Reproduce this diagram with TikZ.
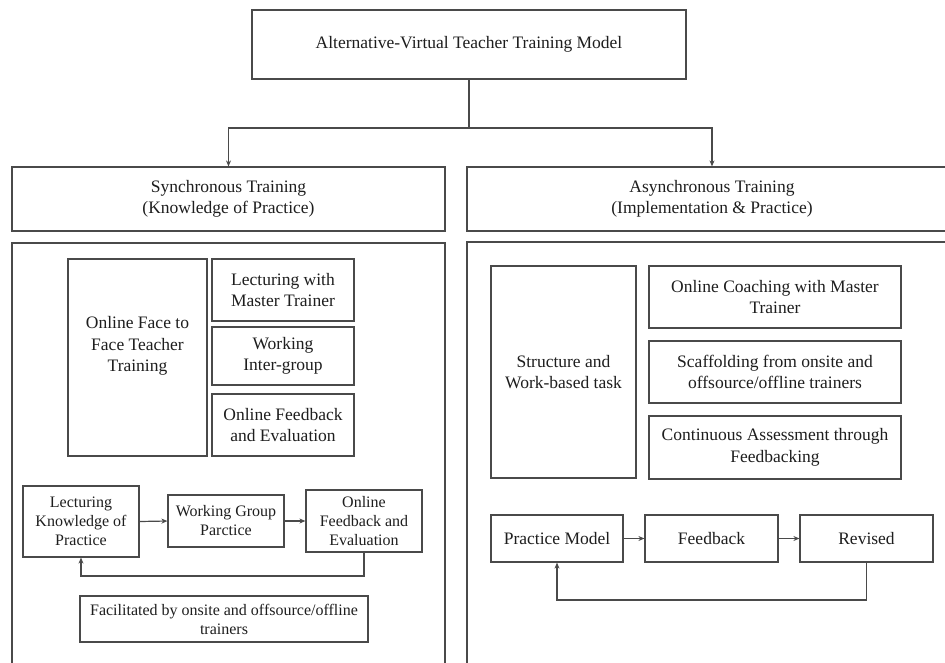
\documentclass[tikz,border=0pt]{standalone}
\usepackage{fontspec}
\setmainfont{Liberation Serif}
\usetikzlibrary{arrows.meta}
\definecolor{linec}{HTML}{4A4A4A}
\definecolor{textc}{HTML}{1E1E1E}
\tikzset{
  box/.style={draw=linec, line width=1.2pt, rectangle, inner sep=0pt, align=center, text=textc,
              font=\fontsize{17.5}{21.5}\selectfont},
  sbox/.style={box, font=\fontsize{16}{19}\selectfont},
  txt/.style={align=center, text=textc, inner sep=0pt, font=\fontsize{17.5}{21.5}\selectfont},
  conn/.style={draw=linec, line width=1.2pt},
  arr/.style={conn, -{Stealth[length=6pt,width=5pt]}}
}
\begin{document}
\begin{tikzpicture}[x=1pt,y=-1pt]
\useasboundingbox (0,0) rectangle (945,662);
\clip (0,0) rectangle (945,662);
\fill[white] (0,0) rectangle (945,662);

% top
\node[box, minimum width=434pt, minimum height=69pt] (title) at (469,44.5) {Alternative-Virtual Teacher Training Model};
\node[box, minimum width=433pt, minimum height=64pt] (syncH) at (228.5,199) {Synchronous Training\\(Knowledge of Practice)};
\node[box, minimum width=490pt, minimum height=64pt] (asyncH) at (712,199) {Asynchronous Training\\(Implementation \& Practice)};
\coordinate (split) at (469,128);
\draw[conn] (title.south) -- (split);
\draw[arr] (split) -| (syncH.north);
\draw[arr] (split) -| (asyncH.north);

% outer containers
\node[box, minimum width=433pt, minimum height=437pt] (syncO) at (228.5,461.5) {};
\node[box, minimum width=490pt, minimum height=438pt] (asyncO) at (712,461) {};

% left inner
\node[box, minimum width=139pt, minimum height=197pt] (oft) at (137.5,357.5) {};
\node[txt] (oftT) at (137.5,346) {Online Face to\\Face Teacher\\Training};
\node[box, minimum width=142pt, minimum height=62pt] (lmt) at (283,290) {Lecturing with\\Master Trainer};
\node[box, minimum width=142pt, minimum height=58pt] (wig) at (283,356) {Working\\Inter-group};
\node[box, minimum width=142pt, minimum height=62pt] (ofe1) at (283,425) {Online Feedback\\and Evaluation};

\node[sbox, minimum width=116pt, minimum height=71pt] (lkp) at (81,521.5) {Lecturing\\Knowledge of\\Practice};
\node[sbox, minimum width=116pt, minimum height=52pt] (wgp) at (226,521) {Working Group\\Parctice};
\node[sbox, minimum width=116pt, minimum height=62pt] (ofe2) at (364,521) {Online\\Feedback and\\Evaluation};
\node[sbox, minimum width=288pt, minimum height=46pt] (fac) at (224,619) {Facilitated by onsite and offsource/offline\\trainers};
\draw[arr] (lkp.east) -- (wgp.west);
\draw[arr] (wgp.east) -- (ofe2.west);
\coordinate (lb) at (364,576);
\draw[arr] (ofe2.south) -- (lb) -| (lkp.south);

% right inner
\node[box, minimum width=145pt, minimum height=212pt] (swt) at (563.5,372) {Structure and\\Work-based task};
\node[box, minimum width=252pt, minimum height=62pt] (occ) at (775,297) {Online Coaching with Master\\Trainer};
\node[box, minimum width=252pt, minimum height=62pt] (sco) at (775,372) {Scaffolding from onsite and\\offsource/offline trainers};
\node[box, minimum width=252pt, minimum height=63pt] (cat) at (775,447.5) {Continuous Assessment through\\Feedbacking};

\node[box, minimum width=132pt, minimum height=47pt] (pm) at (557,538.5) {Practice Model};
\node[box, minimum width=133pt, minimum height=47pt] (fb) at (711.5,538.5) {Feedback};
\node[box, minimum width=133pt, minimum height=47pt] (rev) at (866.5,538.5) {Revised};
\draw[arr] (pm.east) -- (fb.west);
\draw[arr] (fb.east) -- (rev.west);
\coordinate (rb) at (866.5,600);
\draw[arr] (rev.south) -- (rb) -| (pm.south);
\end{tikzpicture}
\end{document}
